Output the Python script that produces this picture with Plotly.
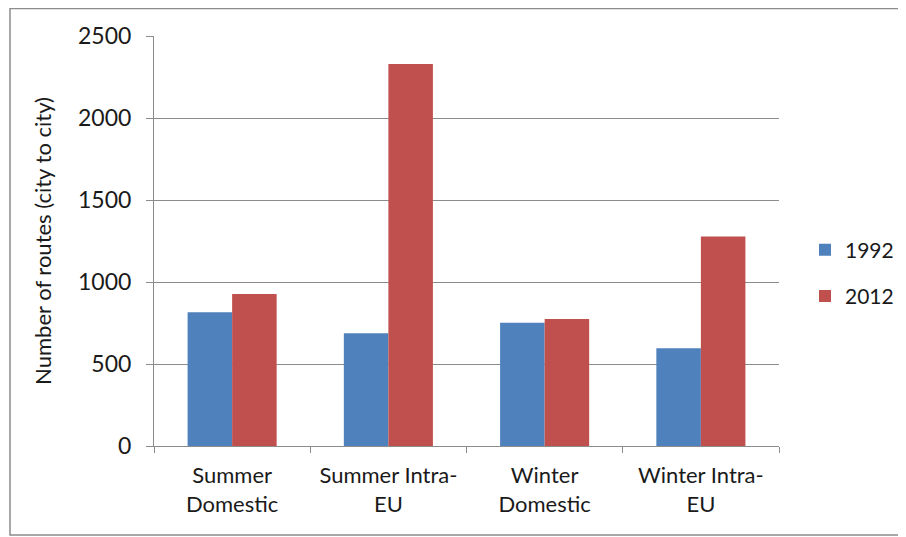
import plotly.graph_objects as go

categories = ["Summer<br>Domestic", "Summer Intra-<br>EU", "Winter<br>Domestic", "Winter Intra-<br>EU"]
values_1992 = [815, 687, 752, 596]
values_2012 = [927, 2330, 775, 1278]
series_names = ["1992", "2012"]
y_ticks = [0, 500, 1000, 1500, 2000, 2500]

FONT = "Lato, Carlito, Calibri, sans-serif"

fig = go.Figure()
fig.add_trace(go.Bar(x=categories, y=values_1992, name=series_names[0],
                     marker=dict(color="#4F81BD", line=dict(width=0)), legendgroup="a"))
fig.add_trace(go.Bar(x=categories, y=values_2012, name=series_names[1],
                     marker=dict(color="#C0504D", line=dict(width=0)), legendgroup="b"))

# page has an 8px body margin: figure coordinates = page coordinates - 8
OFF = 8
W, H = 898, 529
L, T = 154 - OFF, 36 - OFF
R = W - (779 - OFF)
B = H - (446 - OFF)
pw, ph = W - L - R, H - T - B

def px_x(px):
    return (px - OFF - L) / pw

def px_y(py):
    return (H - B - (py - OFF)) / ph

fig.update_layout(
    width=W, height=H,
    margin=dict(l=L, r=R, t=T, b=B, autoexpand=False),
    paper_bgcolor="white", plot_bgcolor="white",
    barmode="group", bargap=0.43, bargroupgap=0,
    font=dict(family=FONT, color="#1a1a1a", size=22),
    showlegend=True,
    legend=dict(x=px_x(805), y=px_y(273), xanchor="left", yanchor="middle",
                font=dict(size=21), tracegroupgap=16, itemwidth=30,
                bgcolor="rgba(0,0,0,0)", traceorder="grouped"),
    xaxis=dict(showline=True, linecolor="#8c8c8c", linewidth=1,
               ticks="outside", ticklen=6, tickcolor="#8c8c8c",
               tickson="boundaries", showgrid=False,
               tickfont=dict(size=22), ticklabelstandoff=10),
    yaxis=dict(range=[0, 2500], tickvals=y_ticks, showline=True,
               linecolor="#8c8c8c", linewidth=1, ticks="outside", ticklen=7,
               tickcolor="#8c8c8c", showgrid=True, gridcolor="#8c8c8c",
               gridwidth=1, zeroline=False, tickfont=dict(size=23),
               ticklabelstandoff=10,
               title=dict(text="Number of routes (city to city)",
                          font=dict(size=22), standoff=20)),
    shapes=[dict(type="rect", xref="paper", yref="paper",
                 x0=px_x(10), x1=px_x(905), y0=px_y(535), y1=px_y(8.5),
                 line=dict(color="#8c8c8c", width=1.5), layer="below")],
)

fig.write_html("out.html")
